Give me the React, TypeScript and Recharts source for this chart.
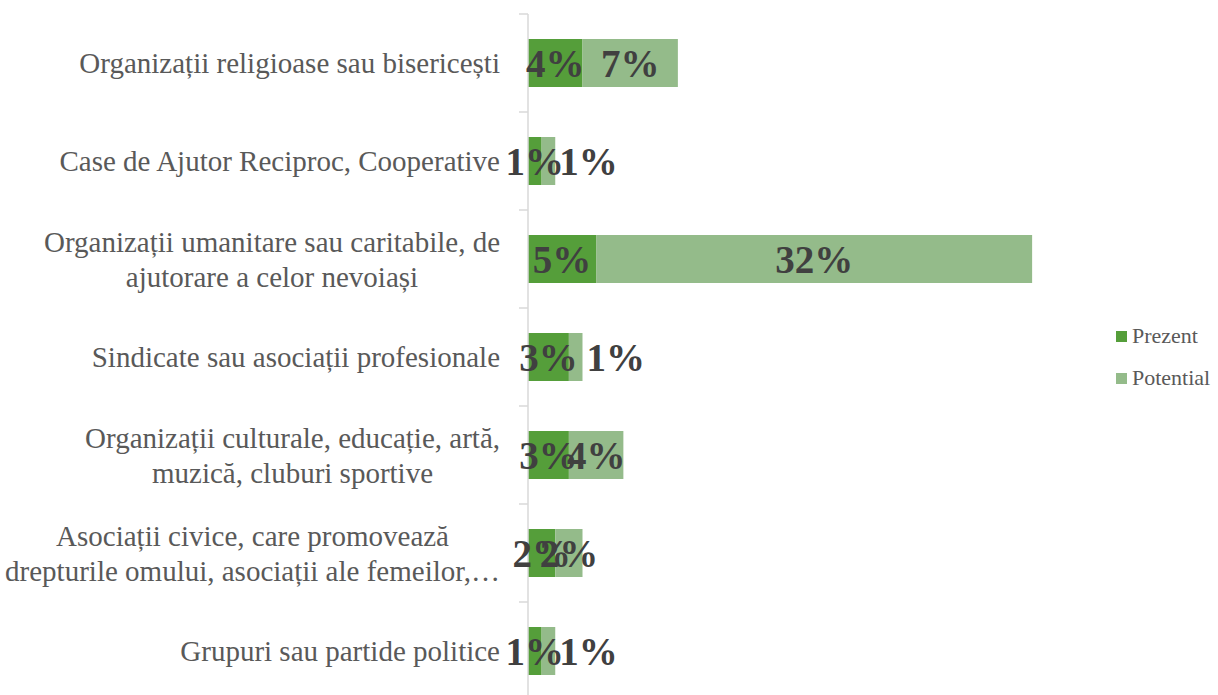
import React from 'react';
import { BarChart, Bar, XAxis, YAxis, LabelList, Legend } from 'recharts';

const categories = [
  'Organizații religioase sau bisericești',
  'Case de Ajutor Reciproc, Cooperative',
  'Organizații umanitare sau caritabile, de\najutorare a celor nevoiași',
  'Sindicate sau asociații profesionale',
  'Organizații culturale, educație, artă,\nmuzică, cluburi sportive',
  'Asociații civice, care promovează\ndrepturile omului, asociații ale femeilor,…',
  'Grupuri sau partide politice',
];
const prezent = [4, 1, 5, 3, 3, 2, 1];
const potential = [7, 1, 32, 1, 4, 2, 1];
const seriesNames = ['Prezent', 'Potential'];

const data = categories.map((name, i) => ({ name, prezent: prezent[i], potential: potential[i] }));

const AXIS_X = 528;
const BAND = 98;
const FONT = '"Liberation Serif", "DejaVu Serif", serif';
const CAT_SIZE = 29;
const C_PREZENT = '#559E3A';
const C_POTENTIAL = '#94BB8A';

let ctx: CanvasRenderingContext2D | null = null;
const measure = (s: string) => {
  if (typeof document === 'undefined') return s.length * CAT_SIZE * 0.42;
  if (!ctx) ctx = document.createElement('canvas').getContext('2d');
  if (!ctx) return s.length * CAT_SIZE * 0.42;
  ctx.font = `${CAT_SIZE}px "Liberation Serif"`;
  return ctx.measureText(s).width;
};

const CategoryTick = (props: any) => {
  const { y, payload } = props;
  const lines = String(payload.value).split('\n');
  const right = AXIS_X - 28;
  const maxW = Math.max(...lines.map(measure));
  const multi = lines.length > 1;
  const cx = multi ? right - maxW / 2 : right;
  return (
    <g>
      <line x1={AXIS_X - 9} x2={AXIS_X} y1={y - BAND / 2} y2={y - BAND / 2} stroke="#d9d9d9" strokeWidth={1.5} />
      <text
        x={cx}
        y={y}
        textAnchor={multi ? 'middle' : 'end'}
        fill="#595959"
        fontFamily={FONT}
        fontSize={CAT_SIZE}
      >
        {lines.map((l, i) => (
          <tspan key={i} x={cx} y={y + (i - (lines.length - 1) / 2) * 35} dy="0.35em">
            {l}
          </tspan>
        ))}
      </text>
    </g>
  );
};

const makeLabel = (side: boolean) => (props: any) => {
  const { x, y, width, height, value } = props;
  const small = side && width < 20;
  const tx = small ? x + width + 4 : x + width / 2;
  return (
    <text
      x={tx}
      y={y + height / 2}
      dy="0.35em"
      textAnchor={small ? 'start' : 'middle'}
      fill="#404040"
      fontFamily={FONT}
      fontWeight="bold"
      fontSize={39}
    >
      {value}%
    </text>
  );
};

const LegendContent = () => (
  <div style={{ fontFamily: FONT, fontSize: 22, color: '#595959' }}>
    {[C_PREZENT, C_POTENTIAL].map((c, i) => (
      <div key={i} style={{ display: 'flex', alignItems: 'center', height: 42 }}>
        <span style={{ width: 11, height: 11, background: c, display: 'inline-block', marginRight: 5 }} />
        <span>{seriesNames[i]}</span>
      </div>
    ))}
  </div>
);

export default function App() {
  return (
    <div style={{ position: 'absolute', left: 0, top: 0, background: '#fff' }}>
      <BarChart
        width={1218}
        height={701}
        data={data}
        layout="vertical"
        margin={{ top: 14, right: 35, bottom: 1, left: 0 }}
        barSize={48}
      >
        <XAxis type="number" domain={[0, 40]} hide />
        <YAxis
          type="category"
          dataKey="name"
          width={AXIS_X}
          axisLine={{ stroke: '#d9d9d9', strokeWidth: 1.5 }}
          tickLine={false}
          tick={<CategoryTick />}
          interval={0}
        />
        <Legend
          layout="vertical"
          align="right"
          verticalAlign="top"
          content={<LegendContent />}
          wrapperStyle={{ left: 1116, top: 315, width: 110 }}
        />
        <Bar dataKey="prezent" name={seriesNames[0]} stackId="a" fill={C_PREZENT} isAnimationActive={false}>
          <LabelList dataKey="prezent" content={makeLabel(false)} />
        </Bar>
        <Bar dataKey="potential" name={seriesNames[1]} stackId="a" fill={C_POTENTIAL} isAnimationActive={false}>
          <LabelList dataKey="potential" content={makeLabel(true)} />
        </Bar>
      </BarChart>
    </div>
  );
}
